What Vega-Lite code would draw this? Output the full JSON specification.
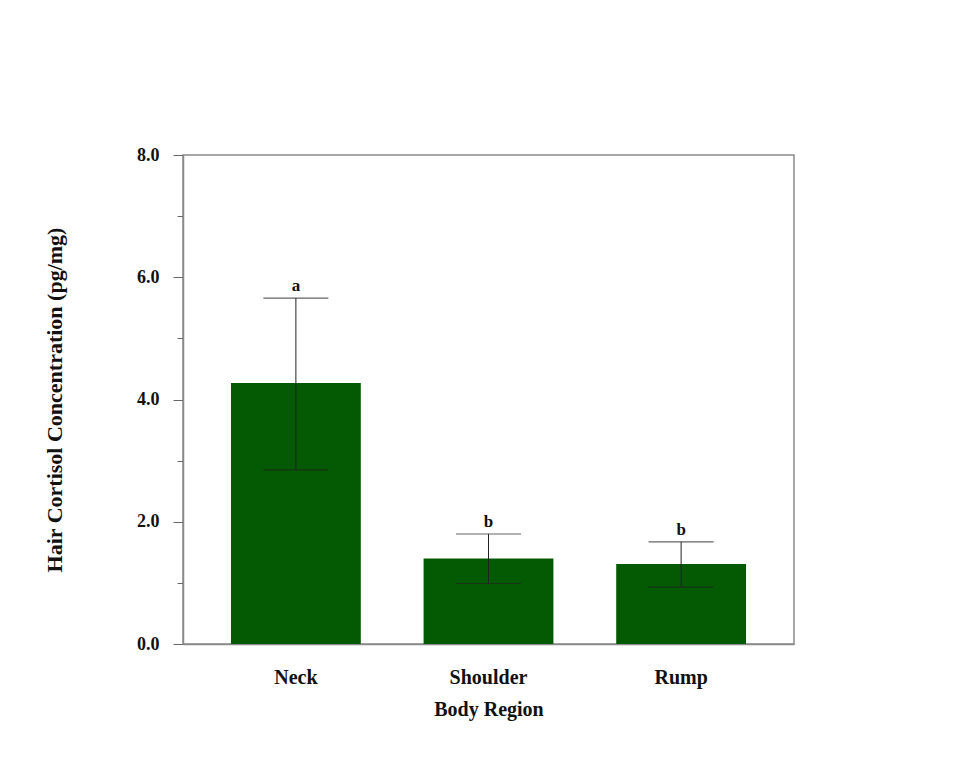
{
  "$schema": "https://vega.github.io/schema/vega-lite/v6.json",
  "width": 611,
  "height": 489,
  "autosize": {"type": "none"},
  "padding": {"left": 183, "top": 155, "right": 166, "bottom": 130},
  "background": "white",
  "data": {
    "values": [
      {"region": "Neck", "mean": 4.27, "lo": 2.85, "hi": 5.66, "letter": "a"},
      {"region": "Shoulder", "mean": 1.40, "lo": 0.99, "hi": 1.80, "letter": "b"},
      {"region": "Rump", "mean": 1.31, "lo": 0.93, "hi": 1.67, "letter": "b"}
    ]
  },
  "encoding": {
    "x": {
      "field": "region",
      "type": "nominal",
      "sort": ["Neck", "Shoulder", "Rump"],
      "scale": {"paddingInner": 0.326, "paddingOuter": 0.249},
      "axis": {
        "title": "Body Region",
        "labelAngle": 0,
        "ticks": false,
        "labelPadding": 23,
        "labelFontSize": 20,
        "titleFontSize": 20,
        "titlePadding": 12,
        "domainColor": "#8a8a8a",
        "domainWidth": 1.5
      }
    }
  },
  "layer": [
    {
      "mark": {"type": "bar", "color": "#035a03"},
      "encoding": {
        "y": {
          "field": "mean",
          "type": "quantitative",
          "scale": {"domain": [0, 8], "nice": false},
          "axis": {
            "title": "Hair Cortisol Concentration (pg/mg)",
            "values": [0, 1, 2, 3, 4, 5, 6, 7, 8],
            "labelExpr": "datum.value % 2 == 0 ? format(datum.value, '.1f') : ''",
            "tickSize": {"condition": {"test": "datum.value % 2 == 0", "value": 10}, "value": 6},
            "tickColor": "#666666",
            "domainColor": "#8a8a8a",
            "domainWidth": 1.5,
            "labelPadding": 14,
            "labelFontSize": 18,
            "titleFontSize": 22,
            "titlePadding": 70,
            "grid": false
          }
        }
      }
    },
    {
      "mark": {"type": "rule", "color": "#222222", "strokeWidth": 1},
      "encoding": {
        "y": {"field": "lo", "type": "quantitative"},
        "y2": {"field": "hi"}
      }
    },
    {
      "mark": {"type": "tick", "color": "#222222", "thickness": 1.2, "size": 65},
      "encoding": {"y": {"field": "hi", "type": "quantitative"}}
    },
    {
      "mark": {"type": "tick", "color": "#222222", "thickness": 1.2, "size": 65},
      "encoding": {"y": {"field": "lo", "type": "quantitative"}}
    },
    {
      "mark": {"type": "text", "baseline": "alphabetic", "dy": -7, "fontSize": 17, "fontWeight": "bold", "font": "Liberation Serif", "color": "#111111"},
      "encoding": {
        "y": {"field": "hi", "type": "quantitative"},
        "text": {"field": "letter"}
      }
    }
  ],
  "config": {
    "view": {"stroke": "#8a8a8a", "strokeWidth": 1.5},
    "axis": {
      "labelFont": "Liberation Serif",
      "titleFont": "Liberation Serif",
      "labelFontWeight": "bold",
      "titleFontWeight": "bold",
      "labelColor": "#111111",
      "titleColor": "#111111"
    }
  }
}
